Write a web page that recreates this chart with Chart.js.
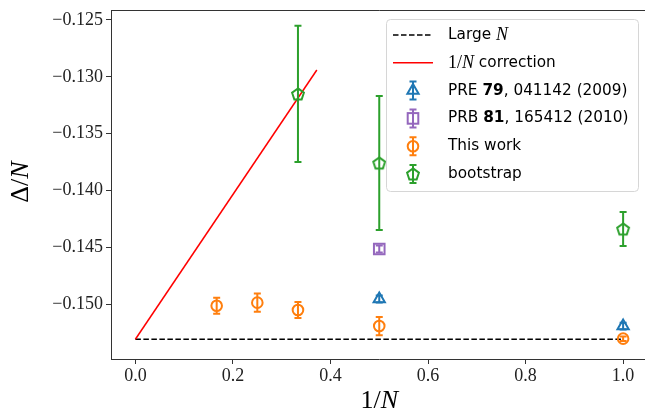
<!DOCTYPE html>
<html>
<head>
<meta charset="utf-8">
<script src="https://cdn.jsdelivr.net/npm/chart.js@4.4.1/dist/chart.umd.min.js"></script>
<style>
  html, body { margin: 0; padding: 0; background: #fff; overflow: hidden; }
  #wrap { width: 650px; height: 413px; }
</style>
</head>
<body>
<div id="wrap"><canvas id="chart" width="650" height="413"></canvas></div>
<script>
// Axis ticks
const xTicks = [0, 0.2, 0.4, 0.6, 0.8, 1.0];
const yTicks = [-0.150, -0.145, -0.140, -0.135, -0.130, -0.125];

// Reference lines
const largeNX = [0, 1];
const largeNY = [-0.1531, -0.1531];
const corrX = [0, 0.372];
const corrY = [-0.1531, -0.1294];

// Data points with error bars
const preX = [0.5, 1.0];
const preY = [-0.14956, -0.15194];
const preErr = [0.0003, 0.0003];

const prbX = [0.5];
const prbY = [-0.14516];
const prbErr = [0.0003];

const thisX = [1 / 6, 1 / 4, 1 / 3, 1 / 2, 1];
const thisY = [-0.15015, -0.14988, -0.15053, -0.15194, -0.15305];
const thisErr = [0.0007, 0.0008, 0.0007, 0.0008, 0.0002];

const bootX = [1 / 3, 1 / 2, 1];
const bootY = [-0.13151, -0.13759, -0.14340];
const bootErr = [0.0060, 0.0059, 0.0015];

const BLUE = "#1f77b4", ORANGE = "#ff7f0e", GREEN = "#2ca02c", PURPLE = "#9467bd";
const SERIF = '"Liberation Serif", serif';
const SANS = '"DejaVu Sans", sans-serif';

function pts(xs, ys) {
  return xs.map((x, i) => ({ x: x, y: ys[i] }));
}

// Pentagon marker (not built into Chart.js)
function pentagonImage(color) {
  const c = document.createElement("canvas");
  c.width = 16; c.height = 16;
  const g = c.getContext("2d");
  g.strokeStyle = color;
  g.lineWidth = 2;
  g.beginPath();
  for (let k = 0; k < 5; k++) {
    const a = -Math.PI / 2 + k * 2 * Math.PI / 5;
    const px = 8 + 6.2 * Math.cos(a), py = 8.6 + 6.2 * Math.sin(a);
    if (k === 0) g.moveTo(px, py); else g.lineTo(px, py);
  }
  g.closePath();
  g.stroke();
  return c;
}
const pent = pentagonImage(GREEN);

// Legend entries: text made of runs (sans text, math italic, bold)
const legendRows = [
  { kind: "dash", color: "#000", runs: [["Large ", "sans"], ["N", "mathit"]] },
  { kind: "line", color: "#ff0000", runs: [["1/", "math"], ["N", "mathit"], [" correction", "sans"]] },
  { kind: "tri", color: BLUE, runs: [["PRE ", "sans"], ["79", "bold"], [", 041142 (2009)", "sans"]] },
  { kind: "rect", color: PURPLE, runs: [["PRB ", "sans"], ["81", "bold"], [", 165412 (2010)", "sans"]] },
  { kind: "circle", color: ORANGE, runs: [["This work", "sans"]] },
  { kind: "pent", color: GREEN, runs: [["bootstrap", "sans"]] }
];

const fonts = {
  sans: "15.3px " + SANS,
  bold: "bold 15.3px " + SANS,
  math: "18px " + SERIF,
  mathit: "italic 18px " + SERIF,
  lab: "26px " + SERIF,
  labit: "italic 26px " + SERIF
};

function drawRuns(ctx, runs, x, y) {
  ctx.textBaseline = "middle";
  ctx.textAlign = "left";
  runs.forEach(r => {
    ctx.font = fonts[r[1]];
    ctx.fillText(r[0], x, y);
    x += ctx.measureText(r[0]).width;
  });
  return x;
}

function runsWidth(ctx, runs) {
  let w = 0;
  runs.forEach(r => { ctx.font = fonts[r[1]]; w += ctx.measureText(r[0]).width; });
  return w;
}

function errBar(ctx, cx, top, bottom, color) {
  ctx.save();
  ctx.strokeStyle = color;
  ctx.lineWidth = 2;
  ctx.beginPath();
  ctx.moveTo(cx, top); ctx.lineTo(cx, bottom);
  ctx.moveTo(cx - 3.5, top); ctx.lineTo(cx + 3.5, top);
  ctx.moveTo(cx - 3.5, bottom); ctx.lineTo(cx + 3.5, bottom);
  ctx.stroke();
  ctx.restore();
}

function marker(ctx, kind, cx, cy, color) {
  ctx.save();
  ctx.strokeStyle = color;
  ctx.lineWidth = 2;
  ctx.beginPath();
  if (kind === "tri") {
    const r = 6.5;
    ctx.moveTo(cx, cy - r);
    ctx.lineTo(cx + r * 0.866, cy + r * 0.5);
    ctx.lineTo(cx - r * 0.866, cy + r * 0.5);
    ctx.closePath();
    ctx.stroke();
  } else if (kind === "rect") {
    ctx.strokeRect(cx - 5.3, cy - 5.3, 10.6, 10.6);
  } else if (kind === "circle") {
    ctx.arc(cx, cy, 5.3, 0, Math.PI * 2);
    ctx.stroke();
  } else if (kind === "pent") {
    ctx.drawImage(pent, cx - 8, cy - 8);
  }
  ctx.restore();
}

// Error bars drawn under each dataset's markers
const errorBarPlugin = {
  id: "errorBars",
  beforeDatasetDraw(chart, args) {
    const ds = chart.data.datasets[args.index];
    if (!ds.errs) return;
    const xs = chart.scales.x, ys = chart.scales.y;
    const ctx = chart.ctx;
    ds.data.forEach((p, i) => {
      const cx = xs.getPixelForValue(p.x);
      errBar(ctx, cx, ys.getPixelForValue(p.y + ds.errs[i]), ys.getPixelForValue(p.y - ds.errs[i]), ds.borderColor);
    });
  }
};

// Top spine, axis labels and legend
const decorPlugin = {
  id: "decor",
  afterDatasetsDraw(chart) {
    const ctx = chart.ctx;
    const a = chart.chartArea;
    ctx.save();
    ctx.strokeStyle = "#333";
    ctx.lineWidth = 1;
    ctx.beginPath();
    ctx.moveTo(a.left, a.top + 0.5);
    ctx.lineTo(a.right, a.top + 0.5);
    ctx.stroke();

    // legend box
    const lx = 386.5, ly = 19.5, lw = 252, lh = 172;
    ctx.fillStyle = "rgba(255,255,255,0.85)";
    ctx.strokeStyle = "#d6d6d6";
    ctx.beginPath();
    ctx.roundRect(lx, ly, lw, lh, 4);
    ctx.fill();
    ctx.stroke();

    legendRows.forEach((row, i) => {
      const y = 35 + i * 27.8;
      const hx = 413;
      if (row.kind === "dash" || row.kind === "line") {
        ctx.save();
        ctx.strokeStyle = row.color;
        ctx.lineWidth = 1.5;
        if (row.kind === "dash") ctx.setLineDash([5.5, 2.5]);
        ctx.beginPath();
        ctx.moveTo(hx - 20, y); ctx.lineTo(hx + 20, y);
        ctx.stroke();
        ctx.restore();
      } else {
        errBar(ctx, hx, y - 9, y + 9, row.color);
        marker(ctx, row.kind, hx, y, row.color);
      }
      ctx.fillStyle = "#000";
      drawRuns(ctx, row.runs, 448, y);
    });

    // axis titles
    ctx.fillStyle = "#000";
    const xl = [["1/", "lab"], ["N", "labit"]];
    const xw = runsWidth(ctx, xl);
    drawRuns(ctx, xl, (a.left + a.right) / 2 - xw / 2, 401);

    const yl = [["\u0394/", "lab"], ["N", "labit"]];
    const yw = runsWidth(ctx, yl);
    ctx.translate(21, 182);
    ctx.rotate(-Math.PI / 2);
    drawRuns(ctx, yl, -yw / 2, 0);
    ctx.restore();
  }
};

function noPad(s) {
  s.paddingTop = 0; s.paddingBottom = 0; s.paddingLeft = 0; s.paddingRight = 0;
}

const ctx = document.getElementById("chart").getContext("2d");

const chart = new Chart(ctx, {
  type: "scatter",
  data: {
    datasets: [
      {
        label: "Large N", data: pts(largeNX, largeNY), showLine: true,
        borderColor: "#000", borderWidth: 1.5, borderDash: [5.5, 2.5],
        pointRadius: 0, order: 6
      },
      {
        label: "1/N correction", data: pts(corrX, corrY), showLine: true,
        borderColor: "#ff0000", borderWidth: 1.5, pointRadius: 0, order: 5
      },
      {
        label: "PRE 79", data: pts(preX, preY), errs: preErr,
        borderColor: BLUE, backgroundColor: "rgba(0,0,0,0)", pointStyle: "triangle",
        pointRadius: 6.5, pointBorderWidth: 2, order: 4
      },
      {
        label: "PRB 81", data: pts(prbX, prbY), errs: prbErr,
        borderColor: PURPLE, backgroundColor: "rgba(0,0,0,0)", pointStyle: "rect",
        pointRadius: 7.5, pointBorderWidth: 2, order: 3
      },
      {
        label: "This work", data: pts(thisX, thisY), errs: thisErr,
        borderColor: ORANGE, backgroundColor: "rgba(0,0,0,0)", pointStyle: "circle",
        pointRadius: 5.3, pointBorderWidth: 2, order: 2
      },
      {
        label: "bootstrap", data: pts(bootX, bootY), errs: bootErr,
        borderColor: GREEN, backgroundColor: "rgba(0,0,0,0)", pointStyle: pent,
        pointRadius: 6, order: 1
      }
    ]
  },
  options: {
    responsive: false,
    animation: false,
    events: [],
    layout: { autoPadding: false, padding: { top: 10, right: 2.5, left: 0, bottom: 0 } },
    plugins: { legend: { display: false }, tooltip: { enabled: false } },
    scales: {
      x: {
        type: "linear", min: -0.05, max: 1.05,
        afterBuildTicks: s => { s.ticks = xTicks.map(v => ({ value: v })); },
        afterFit: s => { s.height = 54; noPad(s); },
        grid: { drawOnChartArea: false, tickLength: 5, tickColor: "#333" },
        border: { color: "#333" },
        ticks: {
          padding: 1, color: "#222", font: { family: SERIF, size: 18 },
          callback: v => v.toFixed(1)
        }
      },
      y: {
        type: "linear", min: -0.15484, max: -0.12412,
        afterBuildTicks: s => { s.ticks = yTicks.map(v => ({ value: v })); },
        afterFit: s => { s.width = 111; noPad(s); },
        grid: { drawOnChartArea: false, tickLength: 5, tickColor: "#333" },
        border: { color: "#333" },
        ticks: {
          padding: 3, color: "#222", font: { family: SERIF, size: 18 },
          callback: v => (v < 0 ? "\u2212" : "") + Math.abs(v).toFixed(3)
        }
      }
    }
  },
  plugins: [errorBarPlugin, decorPlugin]
});
</script>
</body>
</html>
